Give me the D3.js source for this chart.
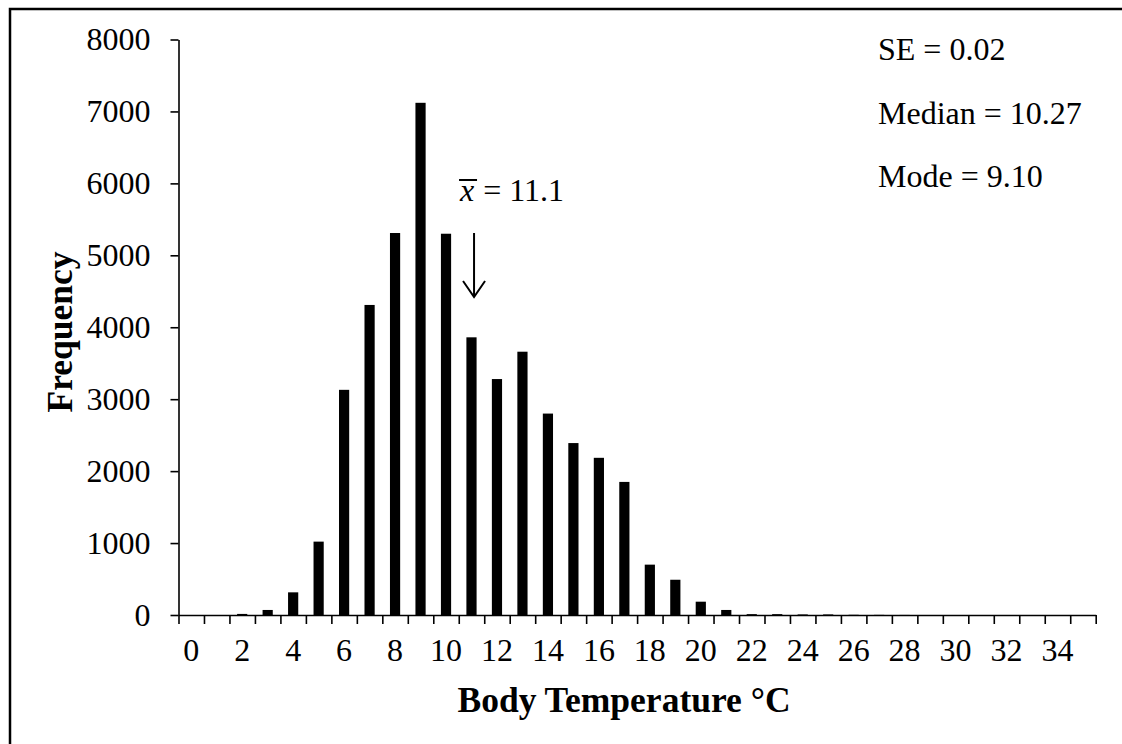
<!DOCTYPE html>
<html>
<head>
<meta charset="utf-8">
<script src="https://cdn.jsdelivr.net/npm/d3@7"></script>
<style>
  body { margin: 0; background: #fff; }
  svg { display: block; font-family: "Liberation Serif", "Times New Roman", serif; }
</style>
</head>
<body>
<svg id="hist" width="1122" height="744"></svg>
<script>
// body temperature bins (°C) and their counts
const temps = d3.range(0, 36);
const counts = [0, 0, 15, 70, 315, 1020, 3130, 4310, 5310, 7120, 5300, 3860, 3280, 3660,
  2800, 2390, 2185, 1850, 700, 490, 185, 70, 12, 12, 8, 8, 3, 2, 1, 0, 0, 0, 0, 0, 0, 0];
const yTicks = d3.range(0, 8001, 1000);
const meanTemp = 11.1;
const stats = ["SE = 0.02", "Median = 10.27", "Mode = 9.10"];

const data = temps.map((t, i) => ({ temp: t, count: counts[i] }));

const svg = d3.select("svg#hist");
const margin = { top: 39.5, left: 178.5, right: 1095.7, bottom: 615 };

// frame round the whole chart
svg.append("rect")
  .attr("x", 10).attr("y", 9)
  .attr("width", 1300).attr("height", 900)
  .attr("fill", "none").attr("stroke", "#000").attr("stroke-width", 2.5);

const x = d3.scaleBand(temps, [margin.left, margin.right])
  .paddingInner(0.6).paddingOuter(0.3);
const xLin = d3.scaleLinear([-0.5, 35.5], [margin.left, margin.right]);
const y = d3.scaleLinear([0, 8000], [margin.bottom, margin.top]);

// bars
svg.append("g")
  .selectAll("rect")
  .data(data)
  .join("rect")
  .attr("x", (d) => x(d.temp))
  .attr("width", x.bandwidth())
  .attr("y", (d) => y(d.count))
  .attr("height", (d) => y(0) - y(d.count))
  .attr("fill", "#000");

// x axis: ticks on the bin boundaries
svg.append("g")
  .attr("transform", `translate(0,${margin.bottom})`)
  .call(d3.axisBottom(xLin).tickValues(d3.range(-0.5, 36, 1)).tickSize(9).tickSizeOuter(0).tickFormat(""))
  .call((g) => g.selectAll("path,line").attr("stroke", "#000").attr("stroke-width", 1.6));

// x labels, every other bin
svg.append("g")
  .attr("transform", `translate(0,${margin.bottom})`)
  .call(d3.axisBottom(x).tickSize(0).tickFormat((d) => (d % 2 === 0 ? d : "")))
  .call((g) => g.select(".domain").remove())
  .call((g) => g.selectAll("text")
    .attr("y", 46).attr("dy", null)
    .attr("font-size", 32).attr("font-family", "Liberation Serif").attr("fill", "#000"));

// y axis
svg.append("g")
  .attr("transform", `translate(${margin.left},0)`)
  .call(d3.axisLeft(y).tickValues(yTicks).tickFormat(d3.format("d")).tickSize(8).tickSizeOuter(0).tickPadding(20))
  .call((g) => g.selectAll("path,line").attr("stroke", "#000").attr("stroke-width", 1.6))
  .call((g) => g.selectAll("text")
    .attr("font-size", 32).attr("font-family", "Liberation Serif").attr("fill", "#000"));

// axis titles
svg.append("text")
  .attr("x", 624)
  .attr("y", 712)
  .attr("text-anchor", "middle")
  .attr("font-size", 35.5).attr("font-weight", "bold")
  .text("Body Temperature °C");

svg.append("text")
  .attr("transform", "translate(72,332) rotate(-90)")
  .attr("text-anchor", "middle")
  .attr("font-size", 35.5).attr("font-weight", "bold")
  .text("Frequency");

// summary statistics
svg.append("g")
  .selectAll("text")
  .data(stats)
  .join("text")
  .attr("x", 878)
  .attr("y", (d, i) => 60 + i * 63.5)
  .attr("font-size", 32)
  .text((d) => d);

// mean marker
const mx = xLin(meanTemp);
const mean = svg.append("g").attr("stroke", "#000").attr("stroke-width", 2).attr("fill", "none");
mean.append("line").attr("x1", mx).attr("x2", mx).attr("y1", 233).attr("y2", 297);
mean.append("path").attr("d", `M${mx - 11},${281} L${mx},${297} L${mx + 11},${281}`);

const label = svg.append("text").attr("x", mx - 14).attr("y", 201).attr("font-size", 32);
label.append("tspan").attr("font-style", "italic").text("x");
label.append("tspan").attr("dx", 9).text("= " + meanTemp);
svg.append("line")
  .attr("x1", mx - 15).attr("x2", mx + 3)
  .attr("y1", 180).attr("y2", 180)
  .attr("stroke", "#000").attr("stroke-width", 2);
</script>
</body>
</html>
